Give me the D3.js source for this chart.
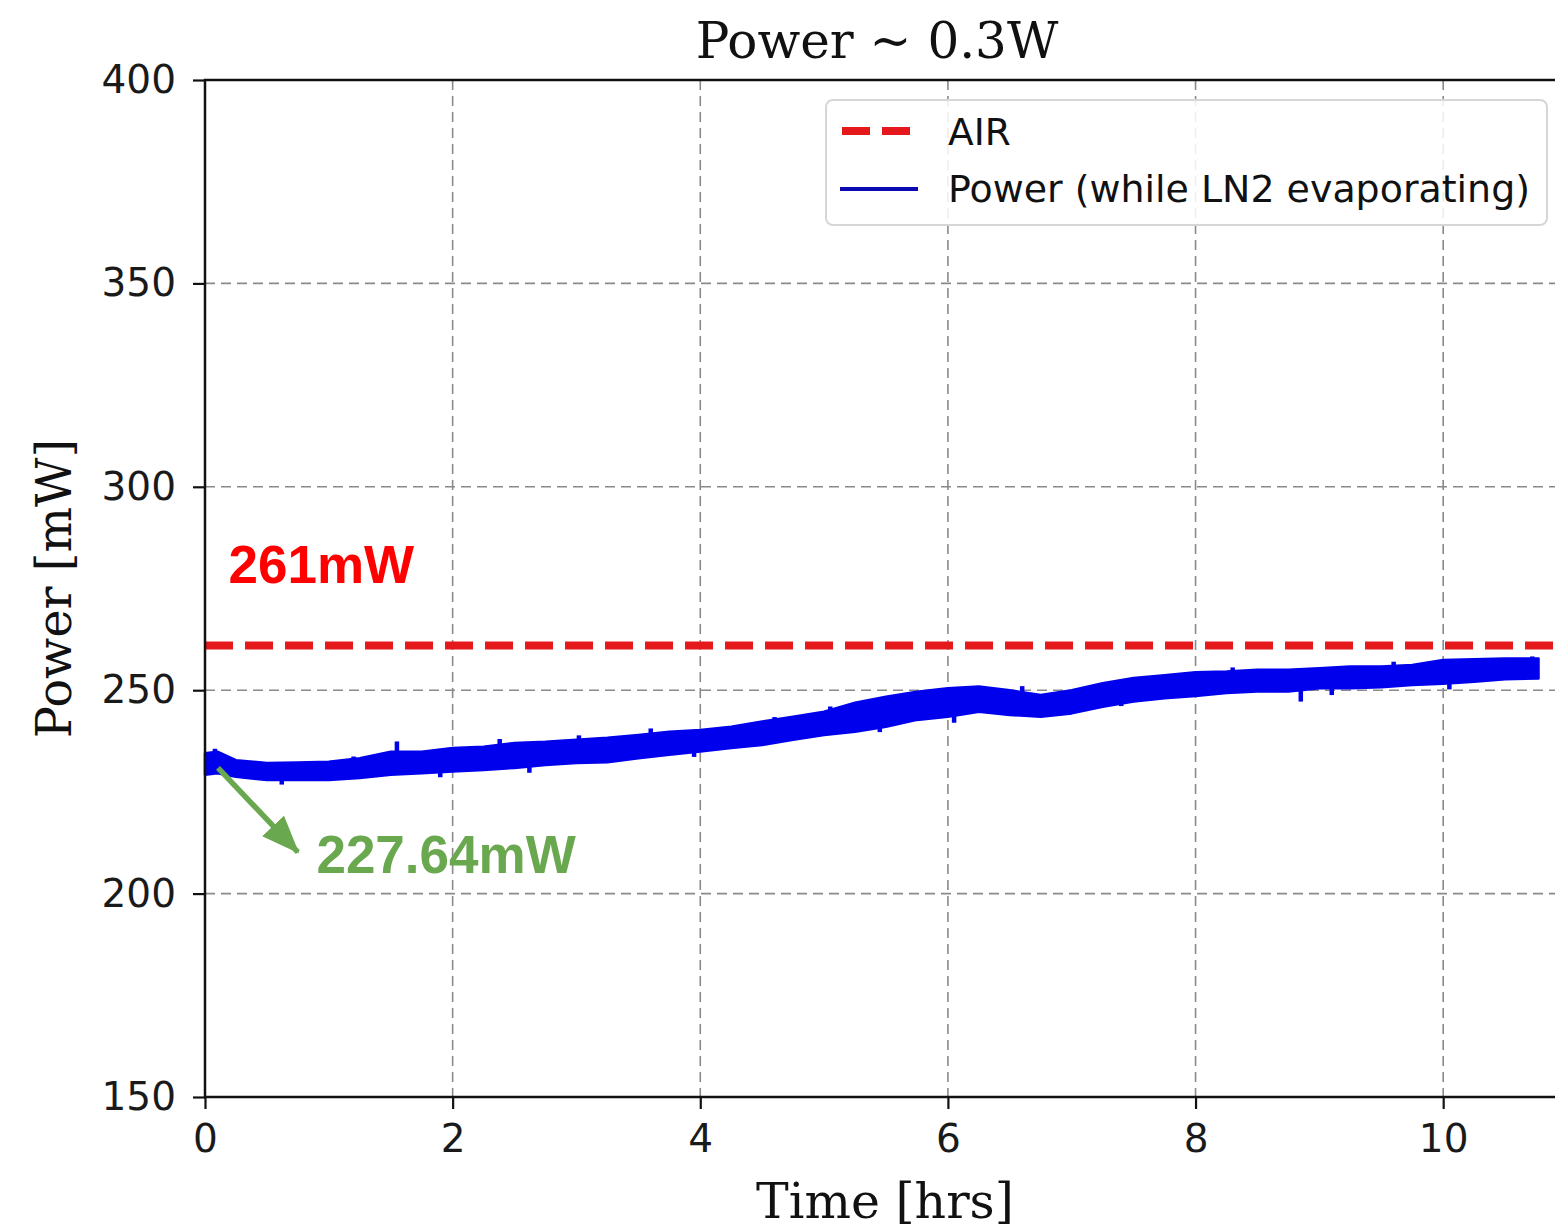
<!DOCTYPE html>
<html>
<head>
<meta charset="utf-8">
<script src="https://cdn.jsdelivr.net/npm/d3@7"></script>
<style>
  html, body { margin: 0; padding: 0; background: #fff; }
  svg { display: block; }
</style>
</head>
<body>
<div id="chart"></div>
<script>
// values
const times = [0, 0.1, 0.25, 0.5, 0.75, 1, 1.25, 1.5, 1.75, 2, 2.25, 2.5, 2.75, 3, 3.25, 3.5, 3.75,
  4, 4.25, 4.5, 4.75, 5, 5.25, 5.5, 5.75, 6, 6.25, 6.5, 6.75, 7, 7.25, 7.5, 7.75,
  8, 8.25, 8.5, 8.75, 9, 9.25, 9.5, 9.75, 10, 10.25, 10.5, 10.77];
const powerHigh = [234.5, 234.9, 232.8, 232.1, 232.2, 232.4, 233.3, 234.9, 234.9, 235.8, 236.1, 237.0, 237.3, 237.8, 238.3, 239.0, 239.8,
  240.2, 241.0, 242.3, 243.5, 244.7, 246.9, 248.4, 249.6, 250.5, 250.9, 250.0, 248.8, 250.0, 251.7, 253.0, 253.7,
  254.4, 254.6, 255.0, 255.0, 255.4, 255.8, 255.8, 256.2, 257.4, 257.6, 257.8, 257.8];
const powerLow = [229.2, 229.6, 228.7, 227.9, 227.9, 227.9, 228.4, 229.2, 229.6, 230.0, 230.4, 230.9, 231.6, 232.1, 232.3, 233.3, 234.1,
  234.9, 235.8, 236.5, 237.8, 239.0, 239.8, 241.0, 242.7, 243.5, 244.7, 243.9, 243.5, 244.3, 245.9, 247.2, 248.0,
  248.6, 249.3, 249.7, 249.7, 250.5, 250.5, 250.7, 251.3, 251.6, 252.1, 252.7, 252.9];
// noise spikes visible on the trace
const spikeTimes = [0.08, 0.62, 1.2, 1.55, 1.9, 2.38, 2.62, 3.02, 3.6, 3.95, 4.6, 5.05, 5.45,
  6.05, 6.6, 7.4, 8.3, 8.85, 9.1, 9.6, 10.05, 10.72];
const spikeValues = [235.6, 226.8, 233.7, 237.4, 228.6, 238.0, 229.7, 238.9, 240.6, 233.6, 243.4, 246.0, 239.7,
  242.0, 251.0, 246.1, 255.6, 247.2, 248.8, 257.0, 250.2, 258.3];

const airPower = 261;
const xTicks = [0, 2, 4, 6, 8, 10];
const yTicks = [150, 200, 250, 300, 350, 400];

const airLabel = '261mW';
const startLabel = '227.64mW';
const arrowFrom = [0.105, 230.9];
const arrowTo = [0.75, 210.2];

const W = 1555, H = 1229;
const M = { top: 80, left: 205 };
const plotW = 1362, plotH = 1017;
const BLUE = '#0000ec';

const svg = d3.select('#chart').append('svg')
  .attr('width', W).attr('height', H);

const x = d3.scaleLinear().domain([0, 11]).range([M.left, M.left + plotW]);
const y = d3.scaleLinear().domain([150, 400]).range([M.top + plotH, M.top]);

// grid
const grid = svg.append('g')
  .attr('stroke', '#8a8a8a').attr('stroke-width', 1.6).attr('stroke-dasharray', '10,6');
grid.selectAll('.gx').data(xTicks.slice(1)).join('line')
  .attr('x1', (d) => x(d)).attr('x2', (d) => x(d))
  .attr('y1', M.top).attr('y2', M.top + plotH);
grid.selectAll('.gy').data(yTicks.slice(1, -1)).join('line')
  .attr('x1', M.left).attr('x2', M.left + plotW)
  .attr('y1', (d) => y(d)).attr('y2', (d) => y(d));

// AIR reference
svg.append('line')
  .attr('x1', M.left).attr('x2', M.left + plotW)
  .attr('y1', y(airPower)).attr('y2', y(airPower))
  .attr('stroke', '#e5181c').attr('stroke-width', 8)
  .attr('stroke-dasharray', '28,12');

// power trace: noisy band
const band = times.map((t, i) => ({ t, hi: powerHigh[i], lo: powerLow[i] }));
const area = d3.area()
  .x((d) => x(d.t))
  .y0((d) => y(d.lo))
  .y1((d) => y(d.hi));
svg.append('path')
  .datum(band)
  .attr('d', area)
  .attr('fill', BLUE)
  .attr('stroke', BLUE)
  .attr('stroke-width', 2.5)
  .attr('stroke-linejoin', 'round');

svg.append('g').selectAll('line')
  .data(spikeTimes.map((t, i) => ({ t, v: spikeValues[i] })))
  .join('line')
  .attr('x1', (d) => x(d.t)).attr('x2', (d) => x(d.t))
  .attr('y1', (d) => y(d.v))
  .attr('y2', (d) => {
    const i = d3.bisectLeft(times, d.t);
    return y((powerHigh[i] + powerLow[i]) / 2);
  })
  .attr('stroke', BLUE).attr('stroke-width', 4.5);

// axes
const axisFont = (g) => {
  g.selectAll('text').attr('font-family', 'DejaVu Sans').attr('font-size', 39).attr('fill', '#1a1a1a');
  g.selectAll('line').attr('stroke', '#111').attr('stroke-width', 2.2);
  g.select('.domain').remove();
};
svg.append('g')
  .attr('transform', `translate(0,${M.top + plotH})`)
  .call(d3.axisBottom(x).tickValues(xTicks).tickSize(12).tickPadding(15).tickFormat(d3.format('d')))
  .call(axisFont);
svg.append('g')
  .attr('transform', `translate(${M.left},0)`)
  .call(d3.axisLeft(y).tickValues(yTicks).tickSize(12).tickPadding(17).tickFormat(d3.format('d')))
  .call(axisFont);

// spines
svg.append('rect')
  .attr('x', M.left).attr('y', M.top).attr('width', plotW).attr('height', plotH)
  .attr('fill', 'none').attr('stroke', '#111').attr('stroke-width', 2.5);

// annotations
svg.append('text')
  .attr('x', x(0.19)).attr('y', y(276.4))
  .attr('font-family', 'Liberation Sans, Arial').attr('font-weight', 'bold')
  .attr('font-size', 53).attr('fill', '#ff0000')
  .text(airLabel);

const green = '#6aa84f';
svg.append('defs').append('marker')
  .attr('id', 'head').attr('markerUnits', 'userSpaceOnUse')
  .attr('viewBox', '0 0 38 30').attr('refX', 36).attr('refY', 15)
  .attr('markerWidth', 38).attr('markerHeight', 30).attr('orient', 'auto')
  .append('path').attr('d', 'M0,0 L38,15 L0,30 Z').attr('fill', green);
svg.append('line')
  .attr('x1', x(arrowFrom[0])).attr('y1', y(arrowFrom[1]))
  .attr('x2', x(arrowTo[0])).attr('y2', y(arrowTo[1]))
  .attr('stroke', green).attr('stroke-width', 5.5)
  .attr('marker-end', 'url(#head)');
svg.append('text')
  .attr('x', x(0.9)).attr('y', y(205))
  .attr('font-family', 'Liberation Sans, Arial').attr('font-weight', 'bold')
  .attr('font-size', 53).attr('fill', green)
  .text(startLabel);

// titles
svg.append('text')
  .attr('x', 877).attr('y', 58).attr('text-anchor', 'middle')
  .attr('font-family', 'DejaVu Serif').attr('font-size', 50).attr('fill', '#111')
  .text('Power ~ 0.3W');
svg.append('text')
  .attr('x', 885).attr('y', 1218).attr('text-anchor', 'middle')
  .attr('font-family', 'DejaVu Serif').attr('font-size', 49).attr('fill', '#111')
  .text('Time [hrs]');
svg.append('text')
  .attr('transform', `translate(71,${M.top + plotH / 2}) rotate(-90)`)
  .attr('text-anchor', 'middle')
  .attr('font-family', 'DejaVu Serif').attr('font-size', 48).attr('fill', '#111')
  .text('Power [mW]');

// legend
const lg = svg.append('g');
lg.append('rect')
  .attr('x', 826).attr('y', 100).attr('width', 721).attr('height', 125).attr('rx', 7)
  .attr('fill', '#fff').attr('fill-opacity', 0.85)
  .attr('stroke', '#d6d6d6').attr('stroke-width', 2);
lg.append('line')
  .attr('x1', 842).attr('x2', 915).attr('y1', 131).attr('y2', 131)
  .attr('stroke', '#e5181c').attr('stroke-width', 8).attr('stroke-dasharray', '28,12');
lg.append('line')
  .attr('x1', 840).attr('x2', 918).attr('y1', 189).attr('y2', 189)
  .attr('stroke', '#0a0ab0').attr('stroke-width', 4);
lg.append('text')
  .attr('x', 948).attr('y', 145)
  .attr('font-family', 'DejaVu Sans').attr('font-size', 37.5).attr('fill', '#111')
  .text('AIR');
lg.append('text')
  .attr('x', 948).attr('y', 202)
  .attr('font-family', 'DejaVu Sans').attr('font-size', 37.5).attr('fill', '#111')
  .attr('textLength', 582).attr('lengthAdjust', 'spacingAndGlyphs')
  .text('Power (while LN2 evaporating)');
</script>
</body>
</html>
